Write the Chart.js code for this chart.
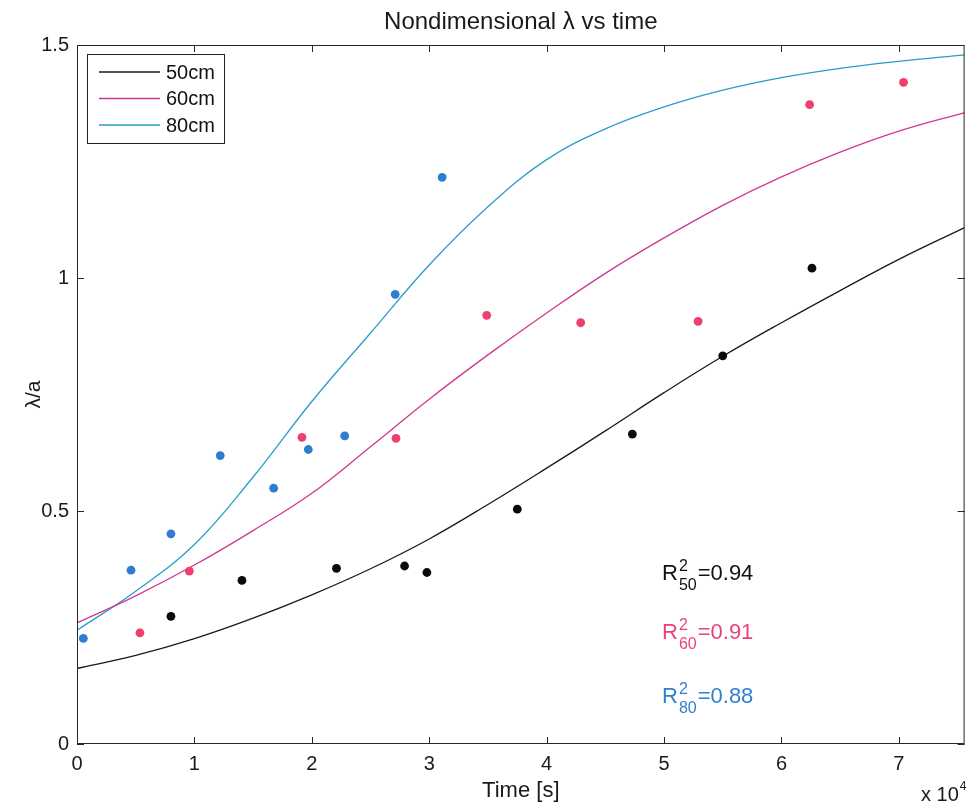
<!DOCTYPE html>
<html>
<head>
<meta charset="utf-8">
<title>Nondimensional λ vs time</title>
<script src="https://cdn.jsdelivr.net/npm/chart.js@4.4.0/dist/chart.umd.min.js"></script>
<style>
  html, body { margin: 0; padding: 0; background: #fff; }
  #wrap { width: 969px; height: 808px; position: relative; }
</style>
</head>
<body>
<div id="wrap"><canvas id="chart" width="969" height="808"></canvas></div>
<script>
// Fitted curves (time in s)
const fitTimes = [0, 5000, 10000, 15000, 20000, 25000, 30000, 35000, 40000, 45000, 50000, 55000, 60000, 65000, 70000, 75600];
const fit50 = [0.162, 0.190, 0.226, 0.270, 0.320, 0.376, 0.440, 0.514, 0.592, 0.672, 0.754, 0.832, 0.904, 0.973, 1.040, 1.108];
const fit60 = [0.260, 0.318, 0.384, 0.458, 0.538, 0.638, 0.740, 0.835, 0.925, 1.010, 1.086, 1.156, 1.217, 1.270, 1.315, 1.355];
const fit80 = [0.244, 0.328, 0.428, 0.573, 0.735, 0.882, 1.028, 1.153, 1.254, 1.320, 1.367, 1.403, 1.430, 1.450, 1.465, 1.479];

// Measured points
const time50 = [8000, 14050, 22100, 27900, 29800, 37500, 47300, 55000, 62600];
const lambda50 = [0.274, 0.351, 0.377, 0.382, 0.368, 0.504, 0.665, 0.833, 1.021];
const time60 = [5360, 9570, 19160, 27170, 34900, 42900, 52900, 62400, 70400];
const lambda60 = [0.2385, 0.371, 0.658, 0.656, 0.920, 0.904, 0.907, 1.372, 1.420];
const time80 = [540, 4600, 8000, 12200, 16750, 19700, 22800, 27100, 31100];
const lambda80 = [0.2265, 0.373, 0.451, 0.619, 0.549, 0.632, 0.661, 0.965, 1.216];

const seriesLabels = ['50cm', '60cm', '80cm'];
const r2Values = ['0.94', '0.91', '0.88'];
const r2Subs = ['50', '60', '80'];
const xTicks = [0, 10000, 20000, 30000, 40000, 50000, 60000, 70000];
const yTicks = [0, 0.5, 1, 1.5];

(function() {
    'use strict';

    const FONT = "'Liberation Sans', Arial, Helvetica, sans-serif";
    const lineColors = ['#1a1a1a', '#d0388f', '#2a9ccc'];
    const dotColors = ['#0a0a0a', '#ee3f6f', '#2f7dd0'];
    const textColors = ['#111111', '#e8437c', '#2f80d0'];

    const toXY = (xs, ys) => xs.map((x, i) => ({ x: x, y: ys[i] }));

    // Box round the axes with MATLAB-style inward ticks
    const frameTicks = {
        id: 'frameTicks',
        afterDatasetsDraw(chart) {
            const { ctx, chartArea: a, scales: { x, y } } = chart;
            ctx.save();
            ctx.strokeStyle = '#262626';
            ctx.lineWidth = 1;
            ctx.strokeRect(a.left + 0.5, a.top + 0.5, a.width - 1, a.height - 1);
            const tl = 7;
            ctx.beginPath();
            x.ticks.forEach(t => {
                const px = Math.round(x.getPixelForValue(t.value)) + 0.5;
                ctx.moveTo(px, a.bottom); ctx.lineTo(px, a.bottom - tl);
                ctx.moveTo(px, a.top); ctx.lineTo(px, a.top + tl);
            });
            y.ticks.forEach(t => {
                const py = Math.round(y.getPixelForValue(t.value)) + 0.5;
                ctx.moveTo(a.left, py); ctx.lineTo(a.left + tl, py);
                ctx.moveTo(a.right, py); ctx.lineTo(a.right - tl, py);
            });
            ctx.stroke();
            ctx.restore();
        }
    };

    // Legend box in the upper-left corner, title, R² notes and the x10^4 exponent
    const annotations = {
        id: 'annotations',
        afterDraw(chart) {
            const { ctx, chartArea: a } = chart;
            ctx.save();

            // title
            ctx.fillStyle = '#1a1a1a';
            ctx.font = '24px ' + FONT;
            ctx.textAlign = 'center';
            ctx.textBaseline = 'alphabetic';
            ctx.fillText('Nondimensional λ vs time', (a.left + a.right) / 2, 29);

            // legend
            const lx = a.left + 10, ly = a.top + 9, lw = 137, lh = 89;
            ctx.fillStyle = '#fff';
            ctx.fillRect(lx, ly, lw, lh);
            ctx.strokeStyle = '#222';
            ctx.lineWidth = 1;
            ctx.strokeRect(lx + 0.5, ly + 0.5, lw, lh);
            ctx.font = '20px ' + FONT;
            ctx.textAlign = 'left';
            ctx.textBaseline = 'middle';
            seriesLabels.forEach((label, i) => {
                const yy = ly + 18 + i * 26.5;
                ctx.strokeStyle = lineColors[i];
                ctx.lineWidth = 1.3;
                ctx.beginPath();
                ctx.moveTo(lx + 12, yy); ctx.lineTo(lx + 73, yy);
                ctx.stroke();
                ctx.fillStyle = '#111';
                ctx.fillText(label, lx + 79, yy + 1);
            });

            // R² notes
            const rx = 662;
            const bases = [580, 639, 703];
            ctx.textBaseline = 'alphabetic';
            r2Values.forEach((v, i) => {
                const b = bases[i];
                ctx.fillStyle = textColors[i];
                ctx.font = '22px ' + FONT;
                ctx.fillText('R', rx, b);
                const rw = ctx.measureText('R').width;
                ctx.font = '16px ' + FONT;
                ctx.fillText('2', rx + rw + 1, b - 9);
                ctx.fillText(r2Subs[i], rx + rw + 1, b + 10);
                const sw = ctx.measureText(r2Subs[i]).width;
                ctx.font = '22px ' + FONT;
                ctx.fillText('=' + v, rx + rw + sw + 2, b);
            });

            // exponent under the right end of the x axis
            ctx.fillStyle = '#1a1a1a';
            ctx.font = '20px ' + FONT;
            ctx.fillText('x 10', 921, 801);
            const ew = ctx.measureText('x 10').width;
            ctx.font = '12px ' + FONT;
            ctx.fillText('4', 921 + ew + 1, 790);

            ctx.restore();
        }
    };

    const fitSets = [fit50, fit60, fit80].map((ys, i) => ({
        label: seriesLabels[i],
        data: toXY(fitTimes, ys),
        showLine: true,
        borderColor: lineColors[i],
        backgroundColor: lineColors[i],
        borderWidth: 1.3,
        pointRadius: 0,
        tension: 0.4,
        order: 1
    }));

    const dotSets = [[time50, lambda50], [time60, lambda60], [time80, lambda80]].map((p, i) => ({
        label: seriesLabels[i] + ' data',
        data: toXY(p[0], p[1]),
        showLine: false,
        pointRadius: 4.4,
        pointBorderWidth: 0,
        pointBackgroundColor: dotColors[i],
        borderColor: dotColors[i],
        order: 0
    }));

    new Chart(document.getElementById('chart').getContext('2d'), {
        type: 'scatter',
        data: { datasets: [...fitSets, ...dotSets] },
        options: {
            responsive: false,
            animation: false,
            layout: { padding: { top: 45, right: 4, bottom: 0, left: 0 } },
            plugins: {
                legend: { display: false },
                tooltip: { enabled: false },
                title: { display: false }
            },
            scales: {
                x: {
                    type: 'linear',
                    min: 0,
                    max: 75600,
                    afterBuildTicks: scale => { scale.ticks = xTicks.map(v => ({ value: v })); },
                    afterFit: scale => { scale.height = 64; },
                    grid: { display: false, drawTicks: false },
                    border: { display: false },
                    ticks: {
                        color: '#1a1a1a',
                        padding: 8,
                        maxRotation: 0,
                        font: { size: 20, family: FONT },
                        callback: v => String(v / 10000)
                    },
                    title: {
                        display: true,
                        text: 'Time [s]',
                        color: '#1a1a1a',
                        font: { size: 22, family: FONT },
                        padding: { top: 0, bottom: 4 }
                    }
                },
                y: {
                    type: 'linear',
                    min: 0,
                    max: 1.5,
                    afterBuildTicks: scale => { scale.ticks = yTicks.map(v => ({ value: v })); },
                    afterFit: scale => { scale.width = 77; },
                    grid: { display: false, drawTicks: false },
                    border: { display: false },
                    ticks: {
                        color: '#1a1a1a',
                        padding: 8,
                        font: { size: 20, family: FONT },
                        callback: v => String(v)
                    },
                    title: {
                        display: true,
                        text: 'λ/a',
                        color: '#1a1a1a',
                        font: { size: 21, family: FONT },
                        padding: { top: 22, bottom: 0 }
                    }
                }
            }
        },
        plugins: [frameTicks, annotations]
    });
})();
</script>
</body>
</html>
